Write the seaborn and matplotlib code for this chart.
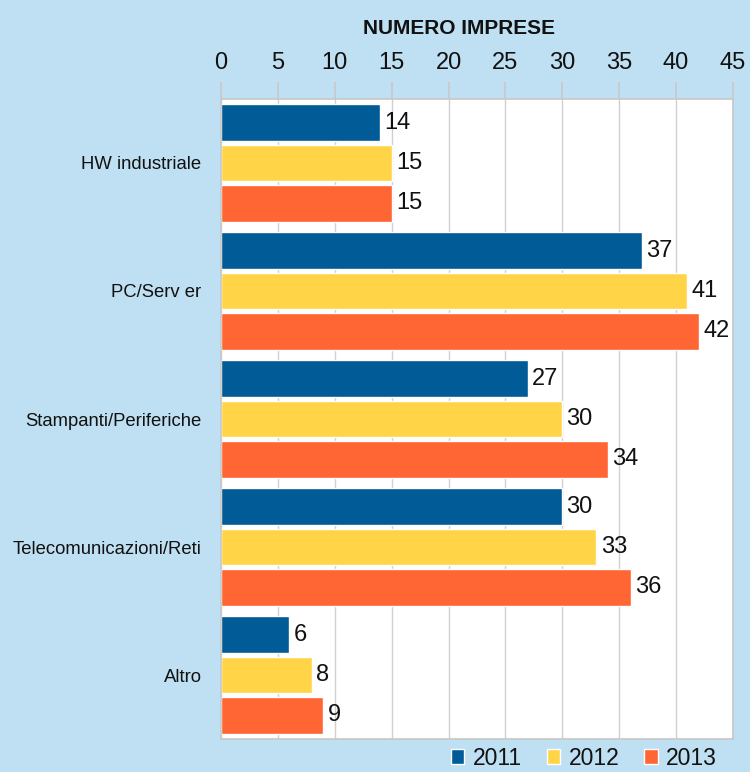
import pandas as pd
import numpy as np
import matplotlib.pyplot as plt
import seaborn as sns

# Dati del grafico
categorie = ["HW industriale", "PC/Serv er", "Stampanti/Periferiche",
             "Telecomunicazioni/Reti", "Altro"]
anni = ["2011", "2012", "2013"]
val_2011 = [14, 37, 27, 30, 6]
val_2012 = [15, 41, 30, 33, 8]
val_2013 = [15, 42, 34, 36, 9]
colori = ["#005B96", "#FFD447", "#FF6633"]

df = pd.DataFrame({
    "Categoria": categorie * 3,
    "Anno": [a for a in anni for _ in categorie],
    "Imprese": val_2011 + val_2012 + val_2013,
})

sns.set_theme(style="white")
plt.rcParams['font.family'] = ['Liberation Sans', 'DejaVu Sans']

bg = "#BEE0F2"
fig = plt.figure(figsize=(7.5, 7.72), dpi=100, facecolor=bg)
ax = fig.add_axes([0.2947, 0.0427, 0.6826, 0.8291])
ax.set_facecolor("white")

sns.barplot(data=df, y="Categoria", x="Imprese", hue="Anno", order=categorie,
            hue_order=anni, palette=colori, orient="h", width=0.94, gap=0.08,
            saturation=1, ax=ax)

for cont in ax.containers:
    ax.bar_label(cont, padding=3, fontsize=17, color="#111111")

ax.set_xlim(0, 45)
ax.set_ylim(len(categorie) - 0.5, -0.5)
ax.set_xticks(np.arange(0, 46, 5))
ax.xaxis.tick_top()
ax.xaxis.set_label_position("top")
ax.tick_params(axis="x", labelsize=17, length=12, color="#C8C8C8", pad=6,
               labelcolor="#111111")
ax.tick_params(axis="y", labelsize=13.3, length=0, pad=14, labelcolor="#111111")
ax.set_yticks(np.arange(-0.5, len(categorie), 1), minor=True)
ax.tick_params(axis="y", which="minor", length=8, color="#C8C8C8")
ax.grid(axis="x", color="#D0D0D0", linewidth=1)
ax.set_axisbelow(True)
for s in ax.spines.values():
    s.set_color("#C8C8C8")
ax.set_xlabel("")
ax.set_ylabel("")
fig.text(0.612, 0.963, "NUMERO IMPRESE", ha="center", va="center",
         fontsize=15, fontweight="bold", color="#111111")

ax.legend(loc="upper right", bbox_to_anchor=(0.969, -0.012), ncol=3, frameon=False,
          fontsize=16.5, handlelength=0.6, handleheight=0.6, handletextpad=0.35,
          columnspacing=1.1, borderaxespad=0, borderpad=0, labelcolor="#111111")

fig.savefig("out.png", facecolor=bg)
